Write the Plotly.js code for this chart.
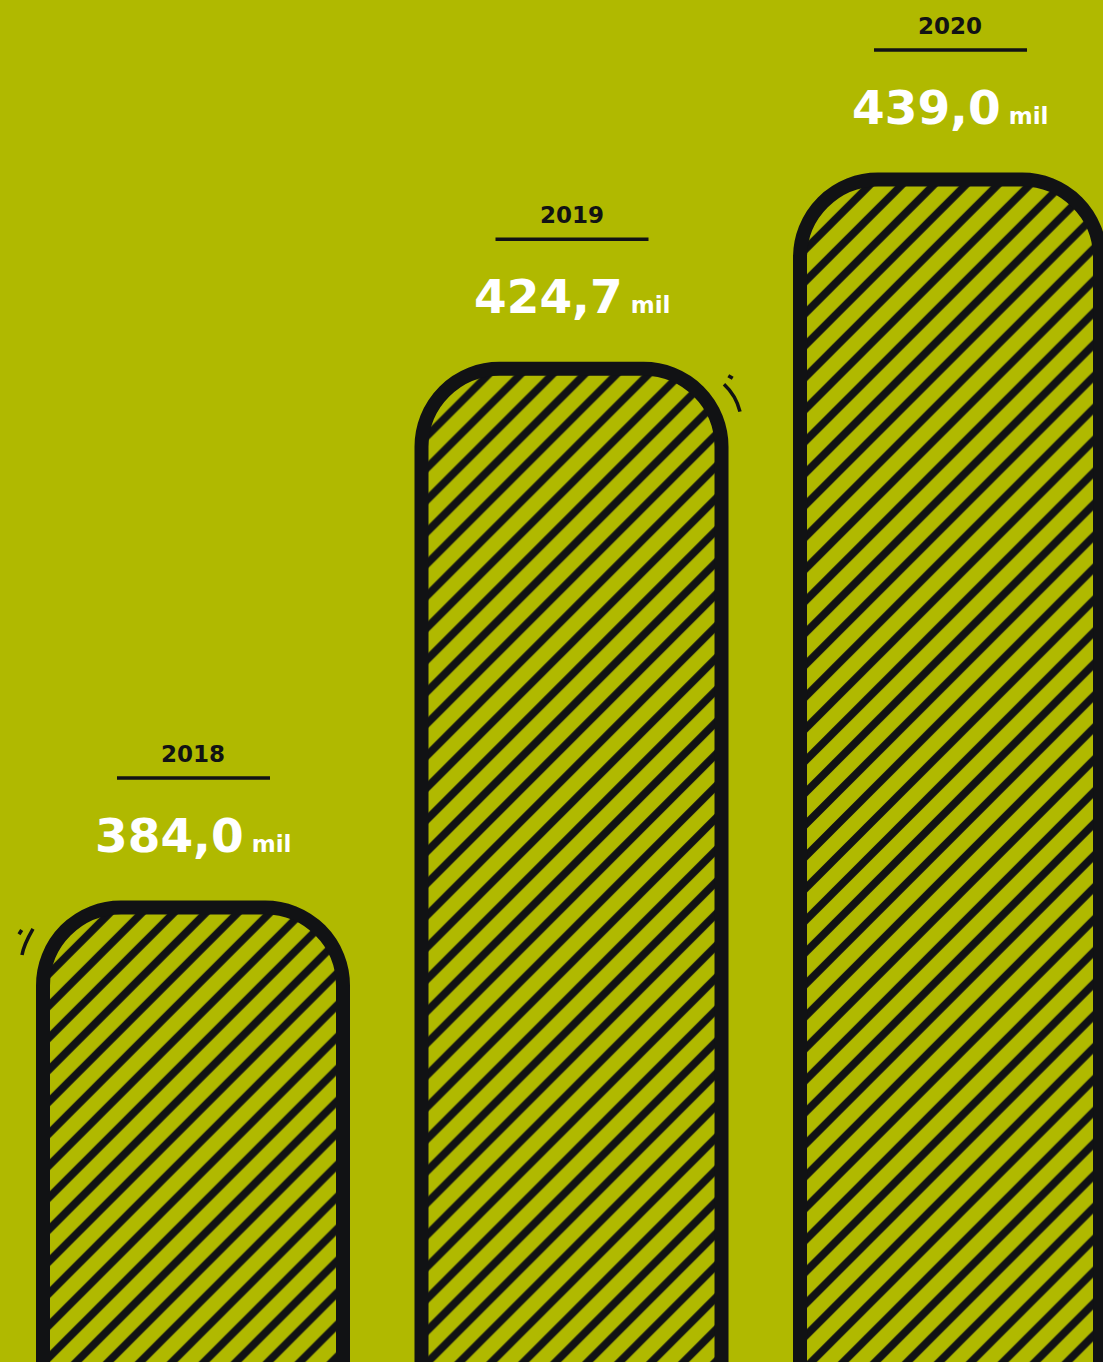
<!DOCTYPE html>
<html><head><meta charset="utf-8">
<script src="https://cdn.plot.ly/plotly-3.0.1.min.js"></script>
<style>html,body{margin:0;padding:0;background:#b0b900;overflow:hidden;}</style>
</head><body>
<div id="chart" style="width:1103px;height:1362px;"></div>
<script>
// ---- data ----
const years = ['2018', '2019', '2020'];
const values = [384.0, 424.7, 439.0];
const valueLabels = ['384,0', '424,7', '439,0'];
const unitLabel = 'mil';

// ---- style ----
const BG = '#b0b900';
const INK = '#111214';
const FONT = '"DejaVu Sans", Inter, sans-serif';

const trace = {
  type: 'bar',
  x: years,
  y: values,
  width: 0.7926,
  cliponaxis: true,
  hoverinfo: 'none',
  marker: {
    color: BG,
    cornerradius: 78,
    line: {color: INK, width: 14},
    pattern: {shape: '/', size: 22.6, solidity: 0.34, fgcolor: INK, bgcolor: BG, fillmode: 'replace'}
  }
};

const annotations = [];
const shapes = [];
years.forEach((yr, i) => {
  annotations.push({
    x: i, y: values[i], xref: 'x', yref: 'y',
    text: yr, showarrow: false, xanchor: 'center', yanchor: 'middle',
    yshift: 153.5,
    font: {family: FONT, size: 23, color: INK, weight: 700}
  });
  annotations.push({
    x: i, y: values[i], xref: 'x', yref: 'y',
    text: valueLabels[i] + '<span style="font-size:23px"> ' + unitLabel + '</span>',
    showarrow: false, xanchor: 'center', yanchor: 'middle',
    yshift: 72,
    font: {family: FONT, size: 47, color: '#ffffff', weight: 700}
  });
  shapes.push({
    type: 'line', xref: 'x', yref: 'y',
    xsizemode: 'pixel', ysizemode: 'pixel',
    xanchor: i, yanchor: values[i],
    x0: -76, x1: 77, y0: 129.5, y1: 129.5,
    line: {color: INK, width: 3.5}
  });
});

// small decorative strokes next to two bars
const decoLine = {color: INK, width: 3.5};
shapes.push({type: 'path', xref: 'x', yref: 'y', xsizemode: 'pixel', ysizemode: 'pixel',
  xanchor: 0, yanchor: values[0], path: 'M-171.3,-22.5 L-174,-26.8', line: decoLine});
shapes.push({type: 'path', xref: 'x', yref: 'y', xsizemode: 'pixel', ysizemode: 'pixel',
  xanchor: 0, yanchor: values[0], path: 'M-160,-21.5 Q-169.1,-37.1 -171,-47.5', line: decoLine});
shapes.push({type: 'path', xref: 'x', yref: 'y', xsizemode: 'pixel', ysizemode: 'pixel',
  xanchor: 1, yanchor: values[1], path: 'M156.8,-6.9 L161.2,-9.5', line: decoLine});
shapes.push({type: 'path', xref: 'x', yref: 'y', xsizemode: 'pixel', ysizemode: 'pixel',
  xanchor: 1, yanchor: values[1], path: 'M152.5,-15.5 Q164.5,-26.6 168.5,-42.9', line: decoLine});

const layout = {
  width: 1103, height: 1362,
  margin: {l: 0, r: 0, t: 0, b: 0, pad: 0},
  paper_bgcolor: BG, plot_bgcolor: BG,
  showlegend: false,
  xaxis: {type: 'category', range: [-0.5099, 2.4042], visible: false, fixedrange: true},
  yaxis: {range: [349.66, 452.56], visible: false, fixedrange: true},
  annotations: annotations,
  shapes: shapes
};

Plotly.newPlot('chart', [trace], layout, {staticPlot: true, displayModeBar: false});
</script>
</body></html>
